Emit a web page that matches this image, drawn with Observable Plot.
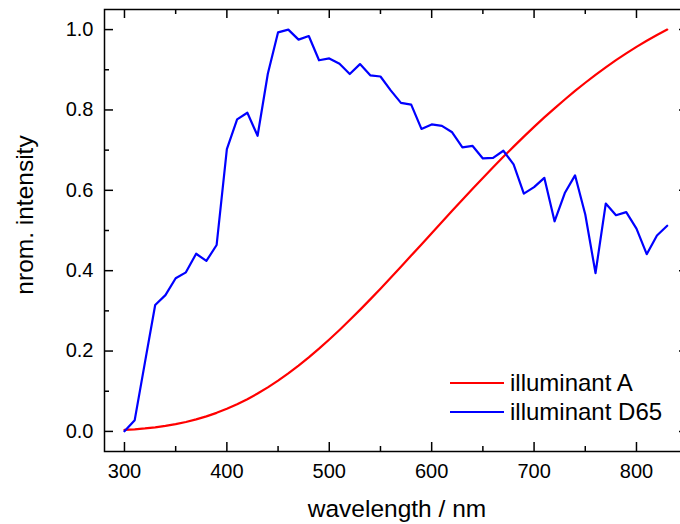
<!DOCTYPE html>
<html><head><meta charset="utf-8">
<script src="https://cdn.jsdelivr.net/npm/d3@7"></script>
<script src="https://cdn.jsdelivr.net/npm/@observablehq/plot@0.6"></script>
<style>
html,body{margin:0;padding:0;background:#fff;overflow:hidden}
#wrap{position:relative;width:680px;height:524px;overflow:hidden;font-family:"Liberation Sans",Arial,sans-serif;color:#000}
#wrap svg{position:absolute;left:0;top:0;max-width:none !important}
.t{position:absolute;font-size:24px;line-height:24px;white-space:nowrap}
.sw{position:absolute;height:2px;width:54px}
</style></head><body><div id="wrap"></div>
<script>
// wavelengths (nm)
const wavelengths = [300,310,320,330,340,350,360,370,380,390,400,410,420,430,440,450,460,470,480,490,500,510,520,530,540,550,560,570,580,590,600,610,620,630,640,650,660,670,680,690,700,710,720,730,740,750,760,770,780,790,800,810,820,830];
// normalized intensity, illuminant A
const illuminantA = [0.0036,0.0052,0.0074,0.0102,0.0137,0.0181,0.0235,0.0299,0.0375,0.0462,0.0562,0.0676,0.0802,0.0943,0.1097,0.1265,0.1445,0.1639,0.1844,0.2061,0.2288,0.2525,0.2771,0.3025,0.3286,0.3552,0.3823,0.4097,0.4375,0.4653,0.4933,0.5212,0.5490,0.5766,0.6039,0.6309,0.6573,0.6834,0.7088,0.7337,0.7579,0.7814,0.8041,0.8261,0.8474,0.8677,0.8873,0.9060,0.9239,0.9408,0.9569,0.9721,0.9865,1.0000];
// normalized intensity, illuminant D65
const illuminantD65 = [0.0003,0.0280,0.1718,0.3145,0.3391,0.3812,0.3959,0.4421,0.4242,0.4639,0.7024,0.7765,0.7931,0.7358,0.8901,0.9932,1.0000,0.9750,0.9840,0.9236,0.9282,0.9150,0.8895,0.9141,0.8862,0.8832,0.8488,0.8177,0.8131,0.7528,0.7640,0.7605,0.7444,0.7070,0.7104,0.6793,0.6809,0.6984,0.6645,0.5918,0.6078,0.6311,0.5229,0.5932,0.6373,0.5398,0.3940,0.5671,0.5380,0.5458,0.5046,0.4410,0.4876,0.5119];

const seriesNames = ["illuminant A", "illuminant D65"];
const seriesColors = ["#ff0000", "#0000ff"];
const xMajor = [300,400,500,600,700,800];
const xMinor = [350,450,550,650,750];
const yMajor = [0,0.2,0.4,0.6,0.8,1.0];
const yMinor = [0.1,0.3,0.5,0.7,0.9];
const xDomain = [280.5, 850.8];
const yDomain = [-0.05, 1.05];
const xTitle = "wavelength / nm";
const yTitle = "nrom. intensity";

const rowsA = wavelengths.map((w, i) => ({wl: w, v: illuminantA[i]}));
const rowsD = wavelengths.map((w, i) => ({wl: w, v: illuminantD65[i]}));

const W = 690, H = 524, ML = 104, MR = 2, MT = 9, MB = 73;
const FW = W - ML - MR, FH = H - MT - MB;
const MAJ = 9, MIN = 5;
const ts = {stroke: "#000", strokeWidth: 1.5};

const plot = Plot.plot({
  width: W, height: H,
  marginLeft: ML, marginRight: MR, marginTop: MT, marginBottom: MB,
  style: {fontFamily: "Liberation Sans, Arial, sans-serif", fontSize: "20px", color: "#000", background: "#fff", maxWidth: "none", overflow: "visible"},
  x: {domain: xDomain},
  y: {domain: yDomain},
  marks: [
    Plot.line(rowsA, {x: "wl", y: "v", stroke: seriesColors[0], strokeWidth: 2.2}),
    Plot.line(rowsD, {x: "wl", y: "v", stroke: seriesColors[1], strokeWidth: 2.2}),
    Plot.frame({stroke: "#000", strokeWidth: 1.5}),
    Plot.axisX({anchor: "bottom", ticks: xMajor, tickSize: 0, tickPadding: 12, tickFormat: d => String(d), label: null, fontSize: 20}),
    Plot.axisY({anchor: "left", ticks: yMajor, tickSize: 0, tickPadding: 11, tickFormat: d3.format(".1f"), label: null, fontSize: 20}),
    // inward ticks, bottom & top
    Plot.ruleX(xMajor, {x: d => d, insetTop: FH - MAJ, ...ts}),
    Plot.ruleX(xMinor, {x: d => d, insetTop: FH - MIN, ...ts}),
    Plot.ruleX(xMajor, {x: d => d, insetBottom: FH - MAJ, ...ts}),
    Plot.ruleX(xMinor, {x: d => d, insetBottom: FH - MIN, ...ts}),
    // inward ticks, left & right
    Plot.ruleY(yMajor, {y: d => d, insetRight: FW - MAJ, ...ts}),
    Plot.ruleY(yMinor, {y: d => d, insetRight: FW - MIN, ...ts}),
    Plot.ruleY(yMajor, {y: d => d, insetLeft: FW - MAJ, ...ts}),
    Plot.ruleY(yMinor, {y: d => d, insetLeft: FW - MIN, ...ts})
  ]
});

const wrap = document.getElementById("wrap");
wrap.appendChild(plot);

function addText(txt, css) {
  const d = document.createElement("div");
  d.className = "t";
  d.textContent = txt;
  Object.assign(d.style, css);
  wrap.appendChild(d);
  return d;
}
addText(xTitle, {left: "397px", top: "497px", transform: "translateX(-50%)", fontSize: "24.5px"});
addText(yTitle, {left: "25px", top: "215px", transform: "translate(-50%,-50%) rotate(-90deg)", fontSize: "24.5px"});

seriesNames.forEach((name, i) => {
  const y = 383 + i * 29;
  const sw = document.createElement("div");
  sw.className = "sw";
  Object.assign(sw.style, {left: "450px", top: (y - 1) + "px", background: seriesColors[i]});
  wrap.appendChild(sw);
  addText(name, {left: "510px", top: (y - 12) + "px"});
});
</script></body></html>
